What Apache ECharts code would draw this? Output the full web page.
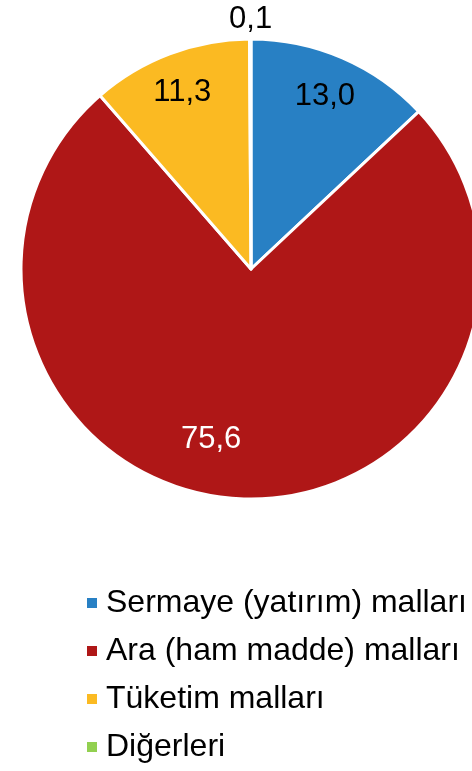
<!DOCTYPE html>
<html>
<head>
<meta charset="utf-8">
<script src="https://cdn.jsdelivr.net/npm/echarts@6/dist/echarts.min.js"></script>
<style>
  html, body { margin: 0; padding: 0; background: #fff; }
  #chart { width: 472px; height: 771px; }
</style>
</head>
<body>
<div id="chart"></div>
<script>
// Goods groups and their shares (%)
const categories = ['Sermaye (yatırım) malları', 'Ara (ham madde) malları', 'Tüketim malları', 'Diğerleri'];
const shares = [13.0, 75.6, 11.3, 0.1];
const colors = ['#2880C4', '#AF1717', '#FBBA22', '#92D050'];

// Per-slice label nudges and text colours
const labelShift = [[27, -64], [-34, 53], [-27, -66], [0, -132]];
const labelColors = ['#000', '#fff', '#000', '#000'];

const chart = echarts.init(document.getElementById('chart'));

chart.setOption({
  animation: false,
  backgroundColor: '#fff',
  legend: {
    orient: 'vertical',
    left: 85,
    top: 585,
    padding: 0,
    itemWidth: 12,
    itemHeight: 12,
    itemGap: 12,
    icon: 'rect',
    data: categories,
    textStyle: {
      fontFamily: 'Liberation Sans, Arial, sans-serif',
      fontSize: 32,
      lineHeight: 36,
      color: '#000',
      padding: [0, 0, 0, 3]
    }
  },
  series: [{
    type: 'pie',
    center: [251, 269],
    radius: [0, 230],
    startAngle: 90,
    clockwise: true,
    avoidLabelOverlap: false,
    label: {
      show: true,
      position: 'inside',
      fontFamily: 'Liberation Sans, Arial, sans-serif',
      fontSize: 31,
      formatter: p => p.value.toFixed(1).replace('.', ',')
    },
    labelLine: { show: false },
    labelLayout: p => ({ dx: labelShift[p.dataIndex][0], dy: labelShift[p.dataIndex][1] }),
    itemStyle: { borderColor: '#fff', borderWidth: 3 },
    emphasis: { disabled: true },
    data: categories.map((name, i) => ({
      name,
      value: shares[i],
      itemStyle: { color: colors[i] },
      label: { color: labelColors[i] }
    }))
  }]
});
</script>
</body>
</html>
